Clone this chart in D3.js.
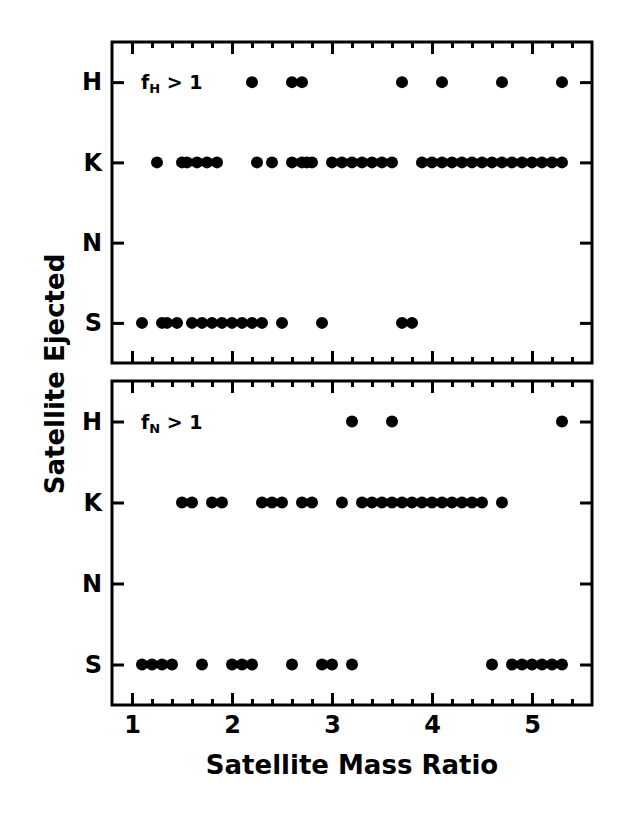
<!DOCTYPE html>
<html><head><meta charset="utf-8">
<script src="https://cdn.jsdelivr.net/npm/d3@7"></script>
<style>body{margin:0;background:#fff}svg{display:block}text{font-family:"DejaVu Sans",sans-serif;font-weight:bold}</style>
</head><body>
<script>
const categories = ["S","N","K","H"];
const xTicks = [1,2,3,4,5];
// top panel (f_H > 1)
const topH = [2.2,2.6,2.7,3.7,4.1,4.7,5.3];
const topK = [1.25,1.5,1.55,1.65,1.75,1.85,2.25,2.4,2.6,2.7,2.75,2.8,3.0,3.1,3.2,3.3,3.4,3.5,3.6,3.9,4.0,4.1,4.2,4.3,4.4,4.5,4.6,4.7,4.8,4.9,5.0,5.1,5.2,5.3];
const topN = [];
const topS = [1.1,1.3,1.35,1.45,1.6,1.7,1.8,1.9,2.0,2.1,2.2,2.3,2.5,2.9,3.7,3.8];
// bottom panel (f_N > 1)
const botH = [3.2,3.6,5.3];
const botK = [1.5,1.6,1.8,1.9,2.3,2.4,2.5,2.7,2.8,3.1,3.3,3.4,3.5,3.6,3.7,3.8,3.9,4.0,4.1,4.2,4.3,4.4,4.5,4.7];
const botN = [];
const botS = [1.1,1.2,1.3,1.4,1.7,2.0,2.1,2.2,2.6,2.9,3.0,3.2,4.6,4.8,4.9,5.0,5.1,5.2,5.3];

const W=623,H=830;
const svg=d3.select("body").append("svg").attr("width",W).attr("height",H);
const x=d3.scaleLinear().domain([0.8,5.6]).range([112,592]);
const panels=[
  {top:42,bottom:363,sub:"H",data:{H:topH,K:topK,N:topN,S:topS},labels:false},
  {top:381,bottom:705,sub:"N",data:{H:botH,K:botK,N:botN,S:botS},labels:true}
];
panels.forEach(p=>{
  const y=d3.scaleLinear().domain([-0.5,3.5]).range([p.bottom,p.top]);
  const g=svg.append("g");
  const minor=d3.range(0.8,5.61,0.2).map(v=>+v.toFixed(1)).filter(v=>!xTicks.includes(v)&&v>0.8&&v<5.6);
  const axB=d3.axisBottom(x).tickValues(xTicks).tickSize(-12).tickFormat(p.labels?d3.format("d"):"").tickPadding(11);
  const axBm=d3.axisBottom(x).tickValues(minor).tickSize(-6).tickFormat("");
  const axT=d3.axisTop(x).tickValues(xTicks).tickSize(-12).tickFormat("");
  const axTm=d3.axisTop(x).tickValues(minor).tickSize(-6).tickFormat("");
  const yIdx=[0,1,2,3];
  const axL=d3.axisLeft(y).tickValues(yIdx).tickSize(-12).tickFormat(i=>categories[i]).tickPadding(10);
  const axR=d3.axisRight(y).tickValues(yIdx).tickSize(-12).tickFormat("");
  [[axB,`translate(0,${p.bottom})`],[axBm,`translate(0,${p.bottom})`],[axT,`translate(0,${p.top})`],[axTm,`translate(0,${p.top})`],[axL,`translate(112,0)`],[axR,`translate(592,0)`]].forEach(([a,t])=>{
    const ag=g.append("g").attr("transform",t).call(a);
    ag.attr("font-size",24).attr("font-family","DejaVu Sans");
    ag.select(".domain").remove();
    ag.selectAll(".tick line").attr("stroke","#000").attr("stroke-width",3);
    ag.selectAll(".tick text").attr("fill","#000").style("font-size","24px").style("font-family","DejaVu Sans").style("font-weight","bold");
  });
  g.append("rect").attr("x",112).attr("y",p.top).attr("width",480).attr("height",p.bottom-p.top)
    .attr("fill","none").attr("stroke","#000").attr("stroke-width",3);
  categories.forEach((c,i)=>{
    g.selectAll(null).data(p.data[c]).enter().append("circle")
      .attr("cx",d=>x(d)).attr("cy",y(i)).attr("r",6).attr("fill","#000");
  });
  const t=g.append("text").attr("x",141).attr("y",y(3)+7).style("font-size","19px").attr("fill","#000");
  t.append("tspan").text("f");
  t.append("tspan").style("font-size","13px").attr("dy",4).text(p.sub);
  t.append("tspan").attr("dy",-4).text(" > 1");
});
svg.append("text").attr("x",352).attr("y",774).attr("text-anchor","middle").style("font-size","26px").attr("fill","#000").text("Satellite Mass Ratio");
svg.append("text").attr("transform","translate(64,374) rotate(-90)").attr("text-anchor","middle").style("font-size","26px").attr("fill","#000").text("Satellite Ejected");
</script>
</body></html>
